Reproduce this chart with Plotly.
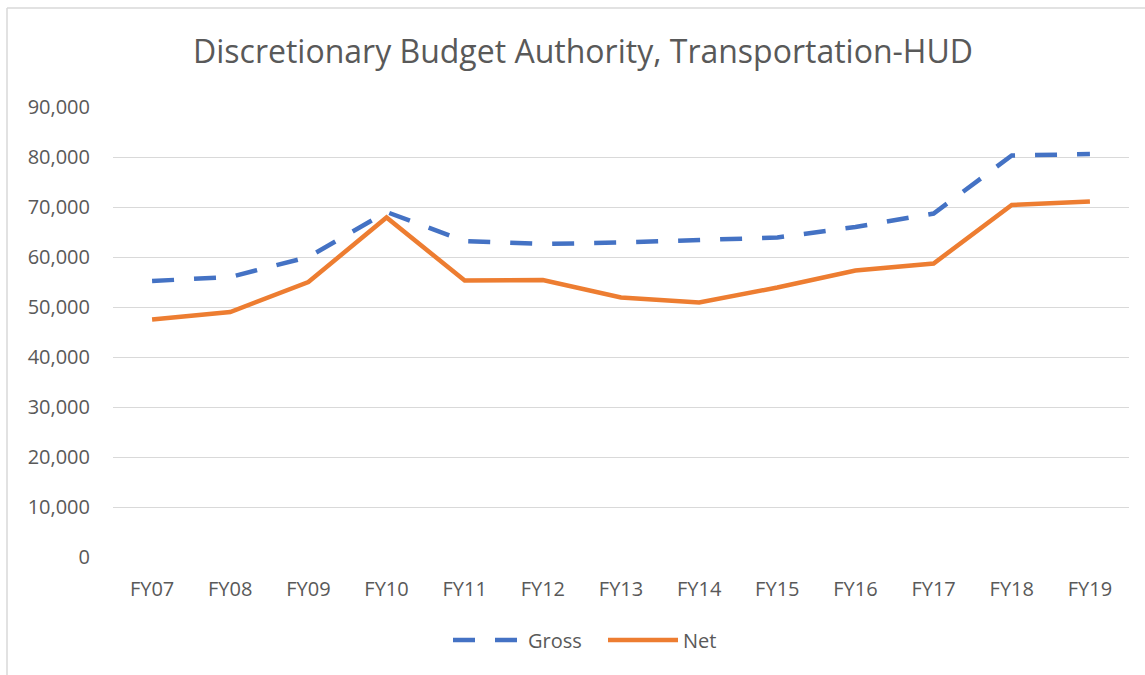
import plotly.graph_objects as go

categories = ["FY07", "FY08", "FY09", "FY10", "FY11", "FY12", "FY13",
              "FY14", "FY15", "FY16", "FY17", "FY18", "FY19"]
gross = [55200, 56000, 60000, 69000, 63200, 62600, 62900,
         63500, 63900, 66000, 68700, 80300, 80600]
net = [47500, 49000, 55000, 67900, 55300, 55400, 51900,
       50900, 53900, 57300, 58700, 70400, 71100]
y_ticks = [0, 10000, 20000, 30000, 40000, 50000, 60000, 70000, 80000, 90000]

W, H = 1145, 675
L, R, T, B = 113, 1129, 107, 557

fig = go.Figure()
fig.add_trace(go.Scatter(x=categories, y=gross, name="Gross", mode="lines",
                         line=dict(color="#4472C4", width=4.5, dash="22px,20px")))
fig.add_trace(go.Scatter(x=categories, y=net, name="Net", mode="lines",
                         line=dict(color="#ED7D31", width=4.5)))

font_family = "Open Sans, Lato, sans-serif"
fig.update_layout(
    width=W, height=H,
    margin=dict(l=L, r=W - R, t=T, b=H - B, autoexpand=False),
    paper_bgcolor="white", plot_bgcolor="white",
    title=dict(text="Discretionary Budget Authority, Transportation-HUD",
               x=583 / W, xanchor="center", y=1 - 52 / H, yanchor="middle",
               font=dict(size=32, color="#595959", family=font_family)),
    font=dict(family=font_family, color="#595959", size=20),
    showlegend=True,
    legend=dict(orientation="h", x=(448 - L) / (R - L), xanchor="left",
                y=-(640 - B) / (B - T), yanchor="middle", itemwidth=70,
                entrywidth=70, entrywidthmode="pixels",
                font=dict(size=20, color="#595959")),
    xaxis=dict(type="category", range=[-0.5, 12.5], showgrid=False,
               zeroline=False, showline=False, ticks="",
               tickfont=dict(size=20, color="#595959"),
               ticklabelstandoff=18),
    yaxis=dict(range=[0, 90000], tickvals=y_ticks, tickformat=",",
               showgrid=True, gridcolor="#D9D9D9", gridwidth=1.3,
               zeroline=False, showline=False, ticks="",
               tickfont=dict(size=20, color="#595959"),
               ticklabelstandoff=22),
)

# outer chart border (light gray)
fig.add_shape(type="line", xref="paper", yref="paper",
              x0=(7 - L) / (R - L), x1=(W + 20 - L) / (R - L),
              y0=1 + (T - 8) / (B - T), y1=1 + (T - 8) / (B - T),
              line=dict(color="#D9D9D9", width=1.5))
fig.add_shape(type="line", xref="paper", yref="paper",
              x0=(7 - L) / (R - L), x1=(7 - L) / (R - L),
              y0=1 + (T - 8) / (B - T), y1=-(H + 20 - B) / (B - T),
              line=dict(color="#D9D9D9", width=1.5))

fig.write_html("out.html", config={"displayModeBar": False},
               post_script="document.body.style.margin='0';document.body.style.padding='0';")
